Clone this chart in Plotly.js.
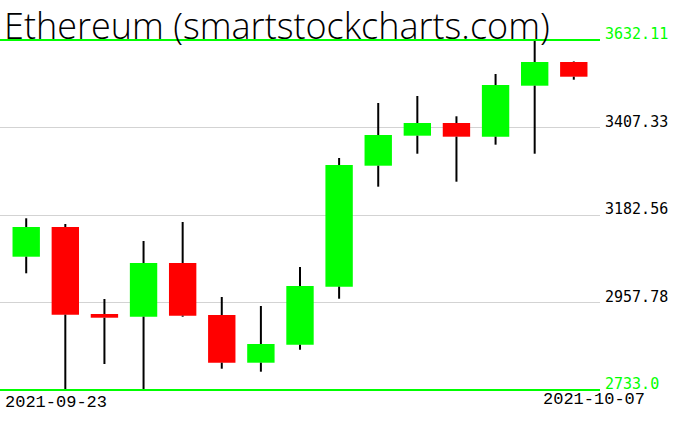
<!DOCTYPE html>
<html>
<head>
<meta charset="utf-8">
<script src="https://cdn.plot.ly/plotly-3.0.1.min.js"></script>
<style>html,body{margin:0;padding:0;background:#fff;}#chart{width:676px;height:431px;}</style>
</head>
<body>
<div id="chart"></div>
<script>
const chartTitle = "Ethereum (smartstockcharts.com)";
const dates = ["2021-09-23","2021-09-24","2021-09-25","2021-09-26","2021-09-27","2021-09-28","2021-09-29","2021-09-30","2021-10-01","2021-10-02","2021-10-03","2021-10-04","2021-10-05","2021-10-06","2021-10-07"];
const openP  = [3075.4, 3151.7, 2928.2, 2921.3, 3059.3, 2925.7, 2803.1, 2849.4, 2998.4, 3309.2, 3386.3, 3418.9, 3383.7, 3514.7, 3575.6];
const highP  = [3174.1, 3159.4, 2966.8, 3115.8, 3164.6, 2971.9, 2948.8, 3049.0, 3329.0, 3470.3, 3488.3, 3436.1, 3544.8, 3632.11, 3577.0];
const lowP   = [3032.8, 2733.0, 2799.8, 2735.6, 2921.3, 2787.7, 2780.0, 2836.5, 2967.5, 3255.3, 3340.0, 3268.1, 3363.2, 3340.0, 3530.1];
const closeP = [3151.7, 2926.4, 2918.7, 3059.3, 2923.9, 2803.1, 2851.2, 3000.2, 3311.0, 3388.1, 3418.9, 3383.7, 3516.5, 3575.6, 3537.8];
const yTickLabels = ["2733.0", "2957.78", "3182.56", "3407.33", "3632.11"];

const UP = "#00ff00", DOWN = "#ff0000";
const yMin = Math.min(...lowP), yMax = Math.max(...highP);
const tickVals = [0,1,2,3,4].map(k => yMin + k * (yMax - yMin) / 4);

// wicks, split so they don't cross the bodies
const wx = [], wy = [];
dates.forEach((d, i) => {
  const top = Math.max(openP[i], closeP[i]), bot = Math.min(openP[i], closeP[i]);
  wx.push(d, d, null, d, d, null);
  wy.push(highP[i], top, null, bot, lowP[i], null);
});

const wicks = {
  type: "scatter", mode: "lines", x: wx, y: wy,
  line: {color: "#000", width: 2}, hoverinfo: "skip", connectgaps: false
};
const bodies = {
  type: "bar", x: dates,
  base: dates.map((d, i) => Math.min(openP[i], closeP[i])),
  y: dates.map((d, i) => Math.abs(closeP[i] - openP[i])),
  width: 0.7,
  marker: {color: dates.map((d, i) => closeP[i] >= openP[i] ? UP : DOWN), line: {width: 0}},
  hoverinfo: "skip"
};

const annotations = tickVals.map((v, k) => ({
  xref: "paper", yref: "y", x: 1, y: v, xanchor: "left", yanchor: "bottom",
  xshift: 3, yshift: -5, showarrow: false, text: yTickLabels[k],
  font: {family: "DejaVu Sans Mono", size: 15, color: (k === 0 || k === 4) ? UP : "#000"}
}));
annotations.push({
  xref: "paper", yref: "paper", x: 0, y: 0, xanchor: "left", yanchor: "top",
  xshift: 3, yshift: -1, showarrow: false, text: dates[0],
  font: {family: "Liberation Mono", size: 17, color: "#000"}
});
annotations.push({
  xref: "paper", yref: "paper", x: 1, y: 0, xanchor: "right", yanchor: "top",
  xshift: 47, yshift: 2, showarrow: false, text: dates[dates.length - 1],
  font: {family: "Liberation Mono", size: 17, color: "#000"}
});

const shapes = [0, 1].map(v => ({
  type: "line", xref: "paper", yref: "paper", x0: 0, x1: 1, y0: v, y1: v,
  line: {color: UP, width: 2}, layer: "above"
}));

const layout = {
  width: 676, height: 431,
  margin: {l: 0, r: 76, t: 40, b: 41, pad: 0},
  paper_bgcolor: "#fff", plot_bgcolor: "#fff",
  showlegend: false, hovermode: false,
  title: {
    text: chartTitle, xref: "container", yref: "container",
    x: 0.006, xanchor: "left", y: 0.938, yanchor: "middle",
    font: {family: "Open Sans", size: 36, weight: 300, color: "#000"}
  },
  xaxis: {
    type: "category", range: [-0.67, dates.length - 0.33],
    showgrid: false, zeroline: false, showticklabels: false, showline: false, ticks: "", fixedrange: true
  },
  yaxis: {
    range: [yMin, yMax], tickvals: tickVals.slice(1, 4), showticklabels: false,
    showgrid: true, gridcolor: "#d3d3d3", gridwidth: 1, zeroline: false, showline: false, ticks: "", fixedrange: true
  },
  bargap: 0.3,
  shapes: shapes,
  annotations: annotations
};

Plotly.newPlot("chart", [wicks, bodies], layout, {staticPlot: true, displayModeBar: false});
</script>
</body>
</html>
